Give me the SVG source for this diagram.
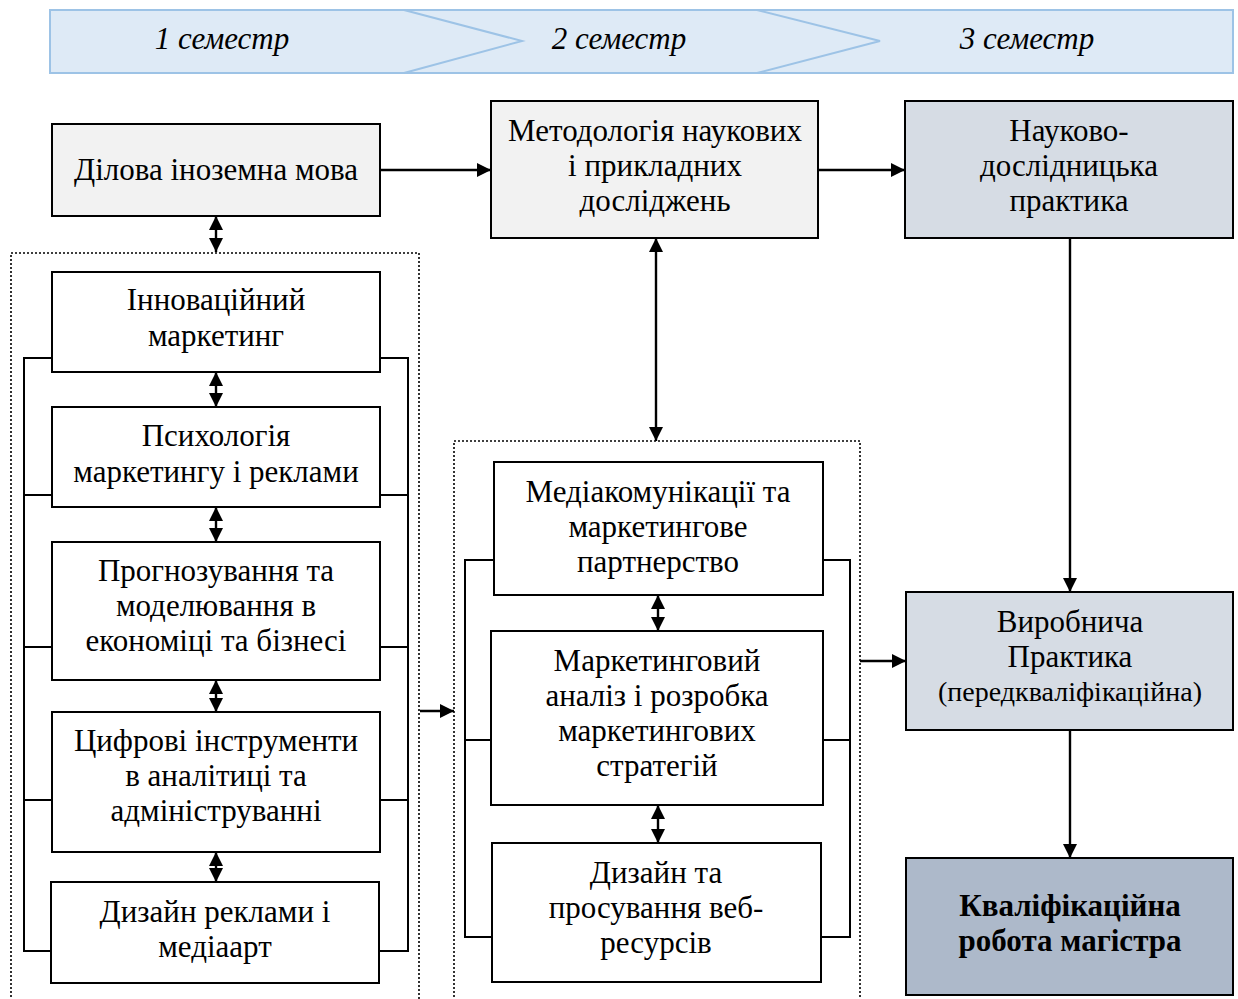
<svg xmlns="http://www.w3.org/2000/svg" width="1238" height="999" viewBox="0 0 1238 999">
<style>
text{font-family:"Liberation Serif","Times New Roman",serif;font-size:31px;fill:#000;text-anchor:middle}
.sem{font-style:italic;font-size:31px}
.sm{font-size:28px}
.box{stroke:#000;stroke-width:2}
.w{fill:#fff}.g{fill:#f2f2f2}.b{fill:#d6dce4}.d{fill:#adb9ca}
.dot{fill:none;stroke:#000;stroke-width:1.6;stroke-dasharray:2 2}
.ln{fill:none;stroke:#000;stroke-width:2}
.ar{fill:none;stroke:#000;stroke-width:2.4;marker-end:url(#ah)}
.dbl{fill:none;stroke:#000;stroke-width:2.4;marker-start:url(#ah);marker-end:url(#ah)}
.bold{font-weight:bold}
</style>
<defs>
<marker id="ah" viewBox="0 0 10 10" refX="10" refY="5" markerWidth="6" markerHeight="6" markerUnits="strokeWidth" orient="auto-start-reverse">
<path d="M0,0 L10,5 L0,10 z" fill="#000"/>
</marker>
</defs>
<g id="banner">
<rect x="50" y="10" width="1183" height="63" fill="#deeaf6" stroke="#9dc3e6" stroke-width="2"/>
<polyline points="404,10 522,41 404,73" fill="none" stroke="#9dc3e6" stroke-width="2"/>
<polyline points="757,10 880,41 757,73" fill="none" stroke="#9dc3e6" stroke-width="2"/>
<text class="sem" x="222" y="49">1 семестр</text>
<text class="sem" x="619" y="49">2 семестр</text>
<text class="sem" x="1027" y="49">3 семестр</text>
</g>
<g id="groups">
<rect class="dot" x="11" y="253" width="408" height="760"/>
<rect class="dot" x="454" y="441" width="406" height="580"/>
</g>
<g id="connectors">
<polyline class="ln" points="52,358 24,358 24,951 52,951"/>
<line class="ln" x1="24" y1="495" x2="52" y2="495"/>
<line class="ln" x1="24" y1="647" x2="52" y2="647"/>
<line class="ln" x1="24" y1="800" x2="52" y2="800"/>
<polyline class="ln" points="380,358 408,358 408,951 380,951"/>
<line class="ln" x1="380" y1="495" x2="408" y2="495"/>
<line class="ln" x1="380" y1="647" x2="408" y2="647"/>
<line class="ln" x1="380" y1="800" x2="408" y2="800"/>
<polyline class="ln" points="494,560 465,560 465,937 492,937"/>
<line class="ln" x1="465" y1="740" x2="491" y2="740"/>
<polyline class="ln" points="823,560 850,560 850,937 821,937"/>
<line class="ln" x1="823" y1="740" x2="850" y2="740"/>
<line class="ar" x1="380" y1="170" x2="491" y2="170"/>
<line class="ar" x1="818" y1="170" x2="905" y2="170"/>
<line class="dbl" x1="216" y1="216" x2="216" y2="252"/>
<line class="dbl" x1="216" y1="372" x2="216" y2="407"/>
<line class="dbl" x1="216" y1="507" x2="216" y2="542"/>
<line class="dbl" x1="216" y1="680" x2="216" y2="712"/>
<line class="dbl" x1="216" y1="852" x2="216" y2="882"/>
<line class="dbl" x1="656" y1="238" x2="656" y2="441"/>
<line class="dbl" x1="658" y1="595" x2="658" y2="631"/>
<line class="dbl" x1="658" y1="805" x2="658" y2="843"/>
<line class="ar" x1="420" y1="711" x2="454" y2="711"/>
<line class="ar" x1="860" y1="661" x2="906" y2="661"/>
<line class="ar" x1="1070" y1="238" x2="1070" y2="592"/>
<line class="ar" x1="1070" y1="730" x2="1070" y2="858"/>
</g>
<g id="n-dilova">
<rect class="box g" x="52" y="124" width="328" height="92"/>
<text x="216" y="180">Ділова іноземна мова</text>
</g>
<g id="n-metod">
<rect class="box g" x="491" y="101" width="327" height="137"/>
<text x="655" y="141">Методологія наукових</text>
<text x="655" y="176">і прикладних</text>
<text x="655" y="211">досліджень</text>
</g>
<g id="n-naukovo">
<rect class="box b" x="905" y="101" width="328" height="137"/>
<text x="1069" y="141">Науково-</text>
<text x="1069" y="176">дослідницька</text>
<text x="1069" y="211">практика</text>
</g>
<g id="n-innov">
<rect class="box w" x="52" y="272" width="328" height="100"/>
<text x="216" y="310">Інноваційний</text>
<text x="216" y="346">маркетинг</text>
</g>
<g id="n-psych">
<rect class="box w" x="52" y="407" width="328" height="100"/>
<text x="216" y="446">Психологія</text>
<text x="216" y="482">маркетингу і реклами</text>
</g>
<g id="n-progn">
<rect class="box w" x="52" y="542" width="328" height="138"/>
<text x="216" y="581">Прогнозування та</text>
<text x="216" y="616">моделювання в</text>
<text x="216" y="651">економіці та бізнесі</text>
</g>
<g id="n-tsyfr">
<rect class="box w" x="52" y="712" width="328" height="140"/>
<text x="216" y="751">Цифрові інструменти</text>
<text x="216" y="786">в аналітиці та</text>
<text x="216" y="821">адмініструванні</text>
</g>
<g id="n-dyzain-rekl">
<rect class="box w" x="51" y="882" width="328" height="101"/>
<text x="215" y="922">Дизайн реклами і</text>
<text x="215" y="957">медіаарт</text>
</g>
<g id="n-media">
<rect class="box w" x="494" y="462" width="329" height="133"/>
<text x="658" y="502">Медіакомунікації та</text>
<text x="658" y="537">маркетингове</text>
<text x="658" y="572">партнерство</text>
</g>
<g id="n-analiz">
<rect class="box w" x="491" y="631" width="332" height="174"/>
<text x="657" y="671">Маркетинговий</text>
<text x="657" y="706">аналіз і розробка</text>
<text x="657" y="741">маркетингових</text>
<text x="657" y="776">стратегій</text>
</g>
<g id="n-web">
<rect class="box w" x="492" y="843" width="329" height="139"/>
<text x="656" y="883">Дизайн та</text>
<text x="656" y="918">просування веб-</text>
<text x="656" y="953">ресурсів</text>
</g>
<g id="n-vyrob">
<rect class="box b" x="906" y="592" width="327" height="138"/>
<text x="1070" y="632">Виробнича</text>
<text x="1070" y="667">Практика</text>
<text class="sm" x="1070" y="701">(передкваліфікаційна)</text>
</g>
<g id="n-kvalif">
<rect class="box d" x="906" y="858" width="327" height="137"/>
<text class="bold" x="1070" y="916">Кваліфікаційна</text>
<text class="bold" x="1070" y="951">робота магістра</text>
</g>
</svg>
